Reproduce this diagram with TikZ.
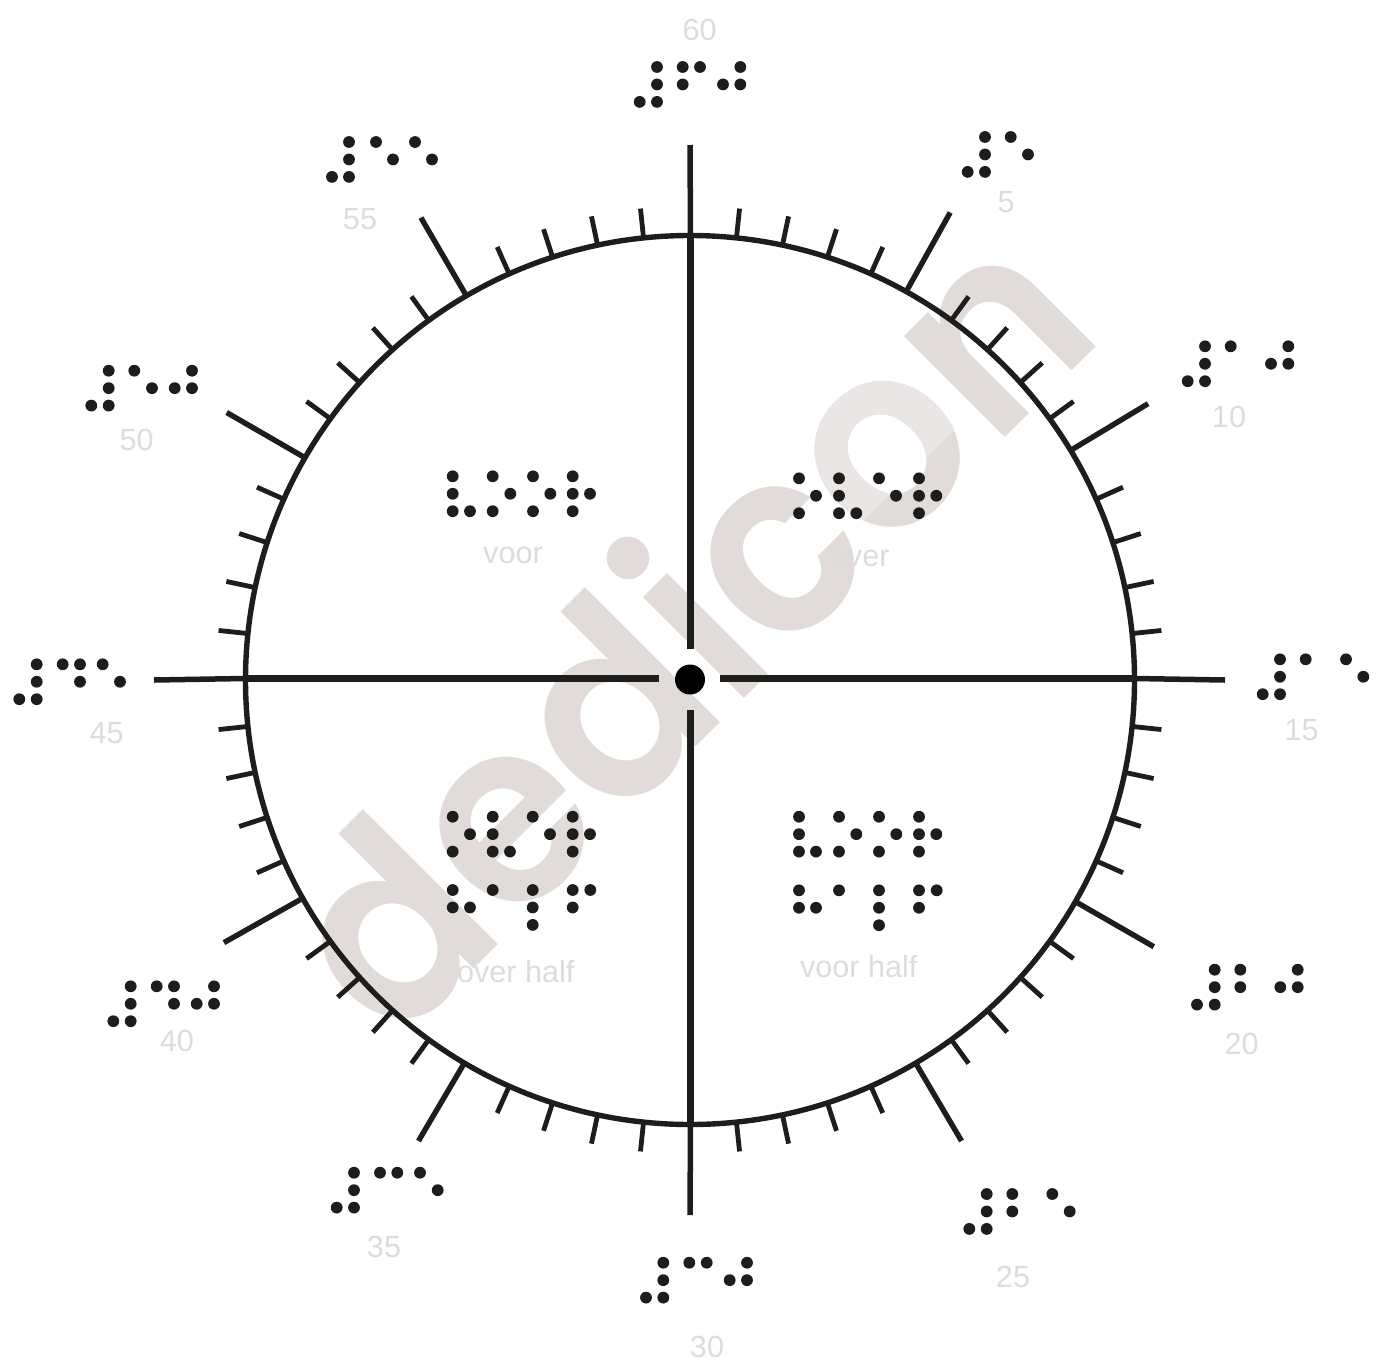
\documentclass[tikz,border=0pt]{standalone}
\usepackage{fontspec}
\setmainfont{Liberation Sans}
\newfontfamily\wmfont{Poppins SemiBold}
\definecolor{ink}{HTML}{1D1D1B}
\definecolor{faint}{HTML}{DCDCDC}
\definecolor{wmark}{HTML}{E1DCDA}
\definecolor{wmlight}{HTML}{EBE6E6}
\tikzset{
  brldot/.style={fill=ink},
  minortick/.style={draw=ink,line width=4.8pt},
  majortick/.style={draw=ink,line width=5.4pt},
  axisinner/.style={draw=ink,line width=7pt},
  axisouter/.style={draw=ink,line width=5.5pt},
  rim/.style={draw=ink,line width=5.4pt},
  lab/.style={text=faint,font=\fontsize{30.6}{30.6}\selectfont,anchor=base,inner sep=0pt},
  wm/.style={font=\wmfont\fontsize{258}{258}\selectfont,anchor=base west,rotate=45,xscale=0.9424,inner sep=0pt}
}
\newcommand\brl[2]{\foreach \cx/\rw in {#2}{\path[brldot] (\cx,{#1+\rw*17.45}) circle[radius=5.9];}}
\begin{document}
\begin{tikzpicture}[x=1pt,y=-1pt]
\useasboundingbox (0,0) rectangle (1383,1370);
\coordinate (ctr) at (690,680);
% watermark
\node[wm,text=wmark] (wmA) at (393,1050) {dedicon};
\begin{scope}
\clip (854,529) -- (956.5,426.5) -- (856.5,326.5) -- (754,429) -- cycle;
\node[wm,text=wmlight] (wmB) at (393,1050) {dedicon};
\end{scope}
% rim and axes
\draw[rim] (ctr) circle[radius=444.5];
\coordinate (T) at (690,145); \coordinate (B) at (690,1215);
\coordinate (L) at (154,680); \coordinate (R) at (1225,680);
\coordinate (Ti) at (690.5,649); \coordinate (Bi) at (690.5,710);
\coordinate (Li) at (659,678.5); \coordinate (Ri) at (720,678.5);
\coordinate (Tr) at (690.5,235); \coordinate (Br) at (690.5,1125);
\coordinate (Lr) at (245,678.5); \coordinate (Rr) at (1135,678.5);
\draw[axisouter] (T) -- (Tr);
\draw[axisouter] (B) -- (Br);
\draw[axisouter] (L) -- (Lr);
\draw[axisouter] (R) -- (Rr);
\draw[axisinner] (Ti) -- (Tr);
\draw[axisinner] (Bi) -- (Br);
\draw[axisinner] (Li) -- (Lr);
\draw[axisinner] (Ri) -- (Rr);
\fill[black] (690,679.5) circle[radius=15];
% ticks
\foreach \m in {1,2,3,4,6,7,8,9,11,12,13,14,16,17,18,19,21,22,23,24,26,27,28,29,31,32,33,34,36,37,38,39,41,42,43,44,46,47,48,49,51,52,53,54,56,57,58,59}{
  \draw[minortick] ([shift={({6*\m-90}:444)}]ctr) -- ([shift={({6*\m-90}:474)}]ctr);
}
\foreach \a in {29.1,58.9,119.9,149.5,210.5,240.6,300,329.8}{
  \draw[majortick] ([shift={({\a-90}:444)}]ctr) -- ([shift={({\a-90}:535)}]ctr);
}
% outer braille
\brl{67}{657/0,682.7/0,700/0,740.3/0,657/1,682.7/1,723/1,740.3/1,639.7/2,657/2}
\brl{137}{985/0,1010.7/0,985/1,1028/1,967.7/2,985/2}
\brl{346.3}{1205/0,1230.7/0,1288.3/0,1205/1,1271/1,1288.3/1,1187.7/2,1205/2}
\brl{659.3}{1280/0,1305.7/0,1346/0,1280/1,1363.3/1,1262.7/2,1280/2}
\brl{969.7}{1214.7/0,1240.3/0,1297.7/0,1214.7/1,1240.3/1,1280.3/1,1297.7/1,1197/2,1214.7/2}
\brl{1194}{986.7/0,1012.3/0,1052.3/0,986.7/1,1012.3/1,1069.7/1,969.3/2,986.7/2}
\brl{1262.7}{663.3/0,689.3/0,706.7/0,747/0,663.3/1,729.7/1,747/1,646/2,663.3/2}
\brl{1172.7}{354/0,380/0,397.3/0,420/0,354/1,437.7/1,336.7/2,354/2}
\brl{986.3}{130.7/0,156.7/0,174/0,214/0,130.7/1,174/1,196.7/1,214/1,113.3/2,130.7/2}
\brl{664.3}{36.7/0,62.7/0,80/0,102.7/0,36.7/1,80/1,120/1,19.3/2,36.7/2}
\brl{370.7}{108.7/0,134.3/0,192/0,108.7/1,152/1,174.7/1,192/1,91.3/2,108.7/2}
\brl{142}{349/0,376/0,415/0,349/1,393/1,432/1,332/2,349/2}
% inner braille
\brl{476.3}{452.7/0,492.7/0,533/0,572.7/0,452.7/1,510.3/1,550.3/1,572.7/1,590/1,452.7/2,470/2,492.7/2,533/2,572.7/2}
\brl{478.3}{799/0,839/0,879/0,919/0,816/1,839/1,896/1,919/1,936.3/1,799/2,839/2,856.3/2,919/2}
\brl{816.7}{452.7/0,492.7/0,532.7/0,572.7/0,470/1,492.7/1,550/1,572.7/1,590/1,452.7/2,492.7/2,510/2,572.7/2}
\brl{890}{452.7/0,492.7/0,532.7/0,572.7/0,590.3/0,452.7/1,470/1,532.7/1,572.7/1,532.7/2}
\brl{816.7}{799/0,839/0,879/0,919/0,799/1,856.3/1,896.3/1,919/1,936.3/1,799/2,816/2,839/2,879/2,919/2}
\brl{890.3}{799/0,839/0,879/0,919/0,936.7/0,799/1,816/1,879/1,919/1,879/2}
% labels
\node[lab] (n60) at (699.7,41) {60};
\node[lab] (n5) at (1006,212) {5};
\node[lab] (n10) at (1229,427) {10};
\node[lab] (n15) at (1301.7,740) {15};
\node[lab] (n20) at (1241.7,1054.5) {20};
\node[lab] (n25) at (1013,1287) {25};
\node[lab] (n30) at (707,1357) {30};
\node[lab] (n35) at (384,1257) {35};
\node[lab] (n40) at (177,1051.5) {40};
\node[lab] (n45) at (106.7,743.5) {45};
\node[lab] (n50) at (136.7,450) {50};
\node[lab] (n55) at (360,229) {55};
\node[lab] (tvoor) at (513,563.5) {voor};
\node[lab] (tover) at (859.7,566.7) {over};
\node[lab] (tohalf) at (515.8,982) {over half};
\node[lab] (tvhalf) at (858.7,977.5) {voor half};
\end{tikzpicture}
\end{document}
